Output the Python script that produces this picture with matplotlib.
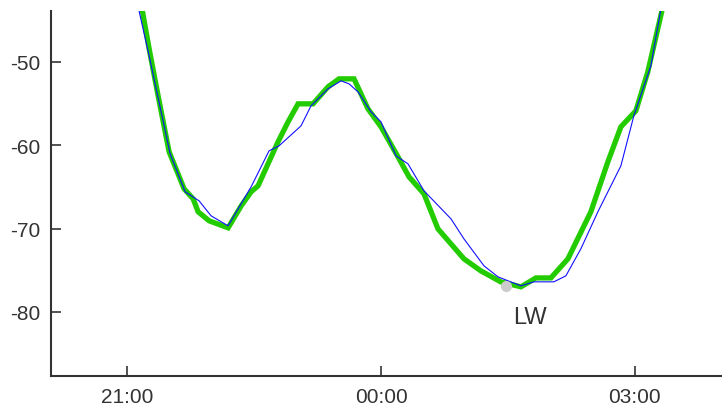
import matplotlib
matplotlib.use("Agg")
import matplotlib.pyplot as plt
from matplotlib import font_manager

# hours relative to midnight
green_x = [-2.846, -2.740, -2.634, -2.504, -2.327, -2.220, -2.161, -2.031, -1.807, -1.653,
           -1.535, -1.453, -1.217, -1.098, -0.980, -0.803, -0.626, -0.496, -0.319, -0.154,
           0.0, 0.201, 0.331, 0.508, 0.673, 0.980, 1.181, 1.417, 1.654, 1.831,
           2.008, 2.209, 2.480, 2.681, 2.835, 3.012, 3.153, 3.340]
green_y = [-42.4, -48.44, -54.08, -60.80, -65.24, -66.44, -68.0, -69.08, -69.92, -67.29,
           -65.6, -64.88, -59.6, -57.2, -55.04, -55.04, -53.0, -52.04, -52.04, -55.64,
           -57.8, -61.4, -63.8, -65.84, -70.04, -73.64, -75.09, -76.41, -77.0, -75.93,
           -75.93, -73.64, -68.0, -62.0, -57.8, -55.88, -51.2, -43.0]

blue_x = [-2.890, -2.740, -2.492, -2.315, -2.150, -2.008, -1.807, -1.535, -1.323, -1.205,
          -0.945, -0.827, -0.626, -0.472, -0.378, -0.272, -0.118, 0.0, 0.177, 0.319,
          0.508, 0.827, 0.980, 1.217, 1.382, 1.654, 1.807, 2.043, 2.185, 2.362,
          2.563, 2.835, 2.988, 3.189, 3.320]
blue_y = [-42.5, -49.3, -61.04, -65.6, -66.68, -68.48, -69.68, -65.0, -60.68, -60.08,
          -57.68, -55.28, -53.24, -52.28, -52.64, -53.6, -56.0, -57.2, -61.28, -62.24,
          -65.48, -68.84, -71.24, -74.48, -75.8, -76.88, -76.4, -76.4, -75.68, -72.44,
          -68.0, -62.48, -56.48, -50.48, -43.0]

lw_x = 1.476
lw_y = -76.89
lw_label = "LW"

xticks = [-3, 0, 3]
xtick_labels = ["21:00", "00:00", "03:00"]
yticks = [-50, -60, -70, -80]

names = {f.name for f in font_manager.fontManager.ttflist}
if "Liberation Sans Narrow" in names:
    fam = ["Liberation Sans Narrow", "DejaVu Sans"]
    tsize = 17.5
    lsize = 19
else:
    fam = ["Liberation Sans", "DejaVu Sans"]
    tsize = 15
    lsize = 17
plt.rcParams['font.family'] = fam

fig = plt.figure(figsize=(7.22, 4.10), dpi=100)
ax = fig.add_axes([51/722, 33/410, 1 - 51/722, (377 - 12)/410])

ax.plot(green_x, green_y, color="#22cc00", lw=3.8, solid_joinstyle="miter", zorder=2)
ax.plot(blue_x, blue_y, color="#1010ff", lw=0.8, zorder=3)
ax.plot([lw_x], [lw_y], "o", color="#cccccc", ms=7, zorder=4)
ax.text(lw_x + 0.29, lw_y - 3.7, lw_label, ha="center", va="center",
        fontsize=lsize, color="#333333", family=fam)

ax.set_xlim(-3.9, 4.03)
ax.set_ylim(-87.7, -43.9)
ax.set_xticks(xticks)
ax.set_xticklabels(xtick_labels)
ax.set_yticks(yticks)
ax.set_yticklabels([str(v) for v in yticks])
for s in ["top", "right"]:
    ax.spines[s].set_visible(False)
for s in ["left", "bottom"]:
    ax.spines[s].set_color("#333333")
    ax.spines[s].set_linewidth(1.5)
ax.tick_params(direction="in", length=7, width=1.2, color="#333333",
               labelsize=tsize, labelcolor="#333333")
ax.tick_params(axis="y", pad=8)
ax.tick_params(axis="x", pad=8)
for lab in ax.get_xticklabels() + ax.get_yticklabels():
    lab.set_family(fam)

fig.savefig("out.png", dpi=100)
